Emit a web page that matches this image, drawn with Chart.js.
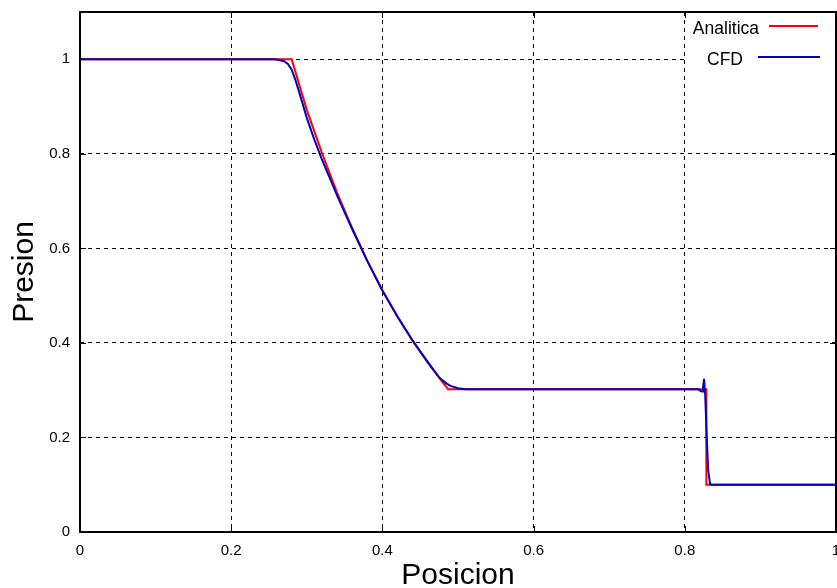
<!DOCTYPE html>
<html>
<head>
<meta charset="utf-8">
<script src="https://cdn.jsdelivr.net/npm/chart.js@4.4.1/dist/chart.umd.min.js"></script>
<style>
  body { margin: 0; overflow: hidden; background: #fff; }
  #wrap { width: 840px; height: 588px; }
</style>
</head>
<body>
<div id="wrap"><canvas id="presion"></canvas></div>
<script>
// Solucion analitica (tubo de choque)
const xAnalitica = [0, 0.28, 0.30, 0.32, 0.34, 0.36, 0.38, 0.40, 0.42, 0.44, 0.46, 0.48, 0.487, 0.8285, 0.8285, 1];
const pAnalitica = [1, 1, 0.893, 0.802, 0.718, 0.643, 0.574, 0.511, 0.455, 0.404, 0.358, 0.316, 0.302, 0.302, 0.1, 0.1];

// Resultado CFD
const xCFD = [0, 0.255, 0.262, 0.27, 0.275, 0.28, 0.285, 0.29, 0.30, 0.31, 0.32, 0.33, 0.34, 0.35, 0.36, 0.38, 0.40, 0.42, 0.44, 0.46, 0.475, 0.485, 0.49, 0.50, 0.51, 0.52, 0.818, 0.821, 0.823, 0.824, 0.8255, 0.827, 0.829, 0.831, 0.8335, 0.836, 1];
const pCFD = [1, 1, 0.999, 0.996, 0.99, 0.978, 0.956, 0.930, 0.876, 0.830, 0.788, 0.750, 0.712, 0.676, 0.641, 0.573, 0.511, 0.456, 0.405, 0.36, 0.327, 0.314, 0.309, 0.304, 0.302, 0.302, 0.302, 0.298, 0.297, 0.305, 0.324, 0.29, 0.2, 0.13, 0.101, 0.1, 0.1];

const xTicks = [0, 0.2, 0.4, 0.6, 0.8, 1];
const yTicks = [0, 0.2, 0.4, 0.6, 0.8, 1];

function pares(xs, ys) {
  return xs.map((x, i) => ({ x: x, y: ys[i] }));
}

const FONT = 'Liberation Sans, Arial, sans-serif';

// marco, ticks hacia dentro y leyenda estilo gnuplot
const gnuplotStyle = {
  id: 'gnuplotStyle',
  afterDraw(chart) {
    const ctx = chart.ctx;
    const a = chart.chartArea;
    const sx = chart.scales.x, sy = chart.scales.y;
    ctx.save();
    ctx.strokeStyle = '#000';
    ctx.lineWidth = 1;
    ctx.beginPath();
    xTicks.forEach(v => {
      const px = Math.round(sx.getPixelForValue(v)) + 0.5;
      ctx.moveTo(px, a.bottom); ctx.lineTo(px, a.bottom - 6);
      ctx.moveTo(px, a.top); ctx.lineTo(px, a.top + 6);
    });
    yTicks.forEach(v => {
      const py = Math.round(sy.getPixelForValue(v)) + 0.5;
      ctx.moveTo(a.left, py); ctx.lineTo(a.left + 6, py);
      ctx.moveTo(a.right, py); ctx.lineTo(a.right - 6, py);
    });
    ctx.stroke();

    // leyenda
    ctx.fillStyle = '#fff';
    ctx.fillRect(688, a.top + 1, a.right - 689, 64);
    ctx.font = '17.5px ' + FONT;
    ctx.textAlign = 'right';
    ctx.textBaseline = 'middle';
    const items = [
      { ds: chart.data.datasets[0], tx: 759, ty: 29, x0: 769, x1: 818, ly: 26 },
      { ds: chart.data.datasets[1], tx: 743, ty: 60, x0: 758, x1: 820, ly: 57 }
    ];
    items.forEach(it => {
      ctx.fillStyle = '#000';
      ctx.fillText(it.ds.label, it.tx, it.ty);
      ctx.strokeStyle = it.ds.borderColor;
      ctx.lineWidth = 2;
      ctx.beginPath();
      ctx.moveTo(it.x0, it.ly); ctx.lineTo(it.x1, it.ly);
      ctx.stroke();
    });

    ctx.strokeStyle = '#000';
    ctx.lineWidth = 2;
    ctx.strokeRect(a.left, a.top, a.right - a.left, a.bottom - a.top);
    ctx.restore();
  }
};

const config = {
  type: 'scatter',
  data: {
    datasets: [
      {
        label: 'Analitica',
        data: pares(xAnalitica, pAnalitica),
        showLine: true,
        borderColor: '#ff0000',
        borderWidth: 2,
        pointRadius: 0,
        tension: 0,
        order: 1
      },
      {
        label: 'CFD',
        data: pares(xCFD, pCFD),
        showLine: true,
        borderColor: '#0000c0',
        borderWidth: 2,
        pointRadius: 0,
        tension: 0,
        order: 0
      }
    ]
  },
  options: {
    responsive: true,
    maintainAspectRatio: false,
    animation: false,
    layout: { padding: { top: 12, right: 4, left: 0, bottom: 0 } },
    plugins: {
      legend: { display: false },
      tooltip: { enabled: false }
    },
    scales: {
      x: {
        type: 'linear',
        min: 0,
        max: 1,
        afterFit(scale) {
          scale.height = 56;
          scale.paddingLeft = 0;
          scale.paddingRight = 0;
        },
        ticks: {
          stepSize: 0.2,
          padding: 10,
          color: '#000',
          font: { family: FONT, size: 15 },
          maxRotation: 0,
          callback: v => String(+v.toFixed(1))
        },
        grid: {
          color: '#000',
          lineWidth: 1,
          drawTicks: false
        },
        border: { display: false, dash: [4, 4] },
        title: {
          display: true,
          text: 'Posicion',
          color: '#000',
          font: { family: FONT, size: 30, lineHeight: 0.8 },
          padding: { top: 0, bottom: 0 }
        }
      },
      y: {
        type: 'linear',
        min: 0,
        max: 1.1,
        afterFit(scale) {
          scale.width = 80;
          scale.paddingTop = 0;
          scale.paddingBottom = 0;
        },
        ticks: {
          stepSize: 0.2,
          includeBounds: false,
          padding: 10,
          color: '#000',
          font: { family: FONT, size: 15 },
          callback: v => String(+v.toFixed(1))
        },
        grid: {
          color: '#000',
          lineWidth: 1,
          drawTicks: false
        },
        border: { display: false, dash: [4, 4] },
        title: {
          display: true,
          text: 'Presion',
          color: '#000',
          font: { family: FONT, size: 30, lineHeight: 0.8 },
          padding: { top: 13, bottom: 0 }
        }
      }
    }
  },
  plugins: [gnuplotStyle]
};

const chartPresion = new Chart(document.getElementById('presion'), config);
</script>
</body>
</html>
